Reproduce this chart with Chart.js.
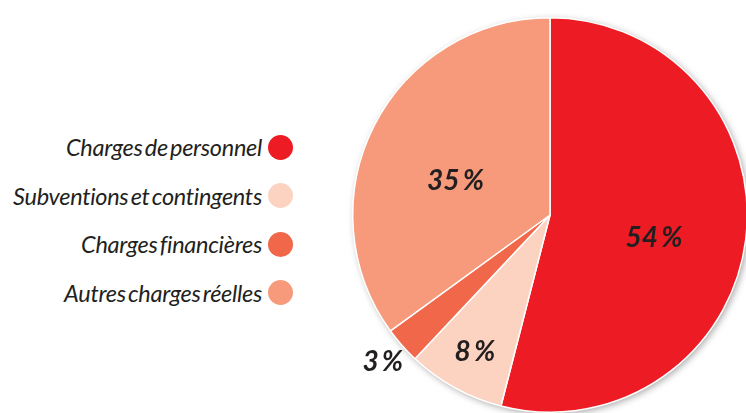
<!DOCTYPE html>
<html>
<head>
<meta charset="utf-8">
<script src="https://cdn.jsdelivr.net/npm/chart.js@4"></script>
<style>
  html, body { margin: 0; padding: 0; background: #fff; overflow: hidden; }
  body { width: 746px; height: 413px; position: relative; font-family: Lato, "Open Sans", sans-serif; }
  #wrap { position: absolute; left: 332px; top: 0; width: 436px; height: 433px; }
  #legend { position: absolute; left: 0; top: 123px; width: 293px; }
  .item { display: flex; justify-content: flex-end; align-items: center; height: 48.5px; }
  .item span { font-style: italic; font-size: 23.5px; color: #231f20; letter-spacing: -0.3px; word-spacing: -3px; margin-right: 6px; }
  .item i { display: inline-block; width: 25px; height: 25px; border-radius: 50%; }
</style>
</head>
<body>
<div id="legend"></div>
<div id="wrap"><canvas id="pie"></canvas></div>
<script>
// Répartition des charges
const categories = ['Charges de personnel', 'Subventions et contingents', 'Charges financières', 'Autres charges réelles'];
const shares = [54, 8, 3, 35];
const sliceColors = ['#ED1C24', '#FCD3C1', '#F0674A', '#F69A7B'];

// legend as html, circle on the right
const legend = document.getElementById('legend');
categories.forEach((c, i) => {
    const row = document.createElement('div');
    row.className = 'item';
    row.innerHTML = `<span>${c}</span><i style="background:${sliceColors[i]}"></i>`;
    legend.appendChild(row);
});

// white disc with soft shadow behind the slices
const shadowPlugin = {
    id: 'pieShadow',
    beforeDatasetsDraw(chart) {
        const arc = chart.getDatasetMeta(0).data[0];
        if (!arc) return;
        const ctx = chart.ctx;
        ctx.save();
        ctx.shadowColor = 'rgba(0,0,0,0.35)';
        ctx.shadowBlur = 7;
        ctx.shadowOffsetX = 2;
        ctx.shadowOffsetY = 2;
        ctx.fillStyle = '#fff';
        ctx.beginPath();
        ctx.arc(arc.x, arc.y, arc.outerRadius, 0, Math.PI * 2);
        ctx.fill();
        ctx.restore();
    }
};

// percentage labels
const labelPlugin = {
    id: 'pctLabels',
    afterDatasetsDraw(chart, args, opts) {
        const ctx = chart.ctx;
        const meta = chart.getDatasetMeta(0);
        ctx.save();
        ctx.font = 'italic bold 28px Lato, "Open Sans", sans-serif';
        ctx.fillStyle = '#231f20';
        ctx.textAlign = 'center';
        ctx.textBaseline = 'middle';
        meta.data.forEach((arc, i) => {
            const mid = (arc.startAngle + arc.endAngle) / 2 + opts.shift[i] * Math.PI / 180;
            const r = arc.outerRadius * opts.radius[i];
            const x = arc.x + Math.cos(mid) * r;
            const y = arc.y + Math.sin(mid) * r;
            ctx.fillText(shares[i] + '\u2009%', x, y);
        });
        ctx.restore();
    }
};

new Chart(document.getElementById('pie'), {
    type: 'pie',
    data: {
        labels: categories,
        datasets: [{
            data: shares,
            backgroundColor: sliceColors,
            borderColor: '#ffffff',
            borderWidth: 1.5
        }]
    },
    options: {
        responsive: true,
        maintainAspectRatio: false,
        animation: false,
        layout: { padding: { left: 20, top: 17, right: 20, bottom: 20 } },
        plugins: {
            legend: { display: false },
            tooltip: { enabled: false },
            pctLabels: { radius: [0.54, 0.79, 1.13, 0.51], shift: [5, 0, 0, -7] }
        }
    },
    plugins: [shadowPlugin, labelPlugin]
});
</script>
</body>
</html>
